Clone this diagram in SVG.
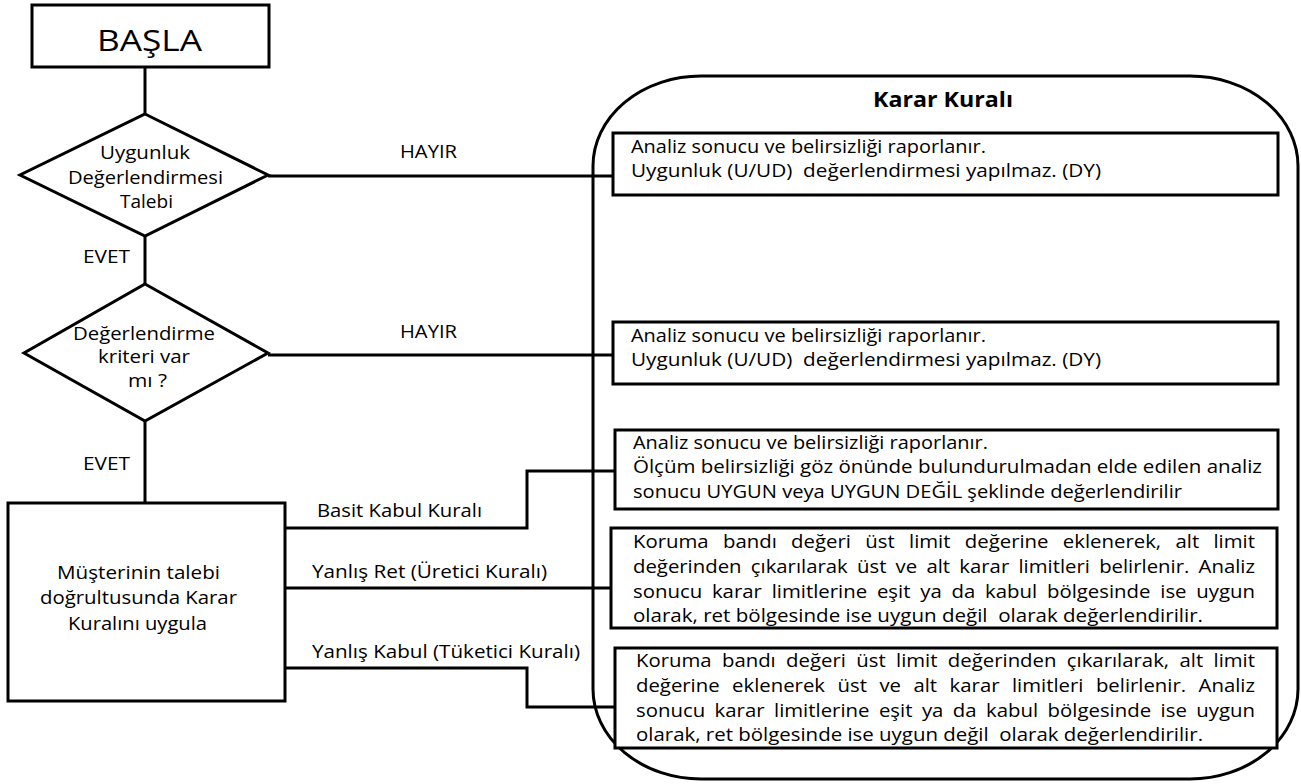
<svg xmlns="http://www.w3.org/2000/svg" width="1301" height="784" viewBox="0 0 1301 784">
<style>
.s{fill:none;stroke:#000;stroke-width:3}
.n{fill:#fff;stroke:#000;stroke-width:3}
.t{font-family:"Open Sans","Liberation Sans",sans-serif;fill:#000}
.lb{font-size:18px}
.dt{font-size:18px}
.rt{font-size:19px}
.bt{font-size:18px}
</style>
<rect x="0" y="0" width="1301" height="784" fill="#fff"/>
<g id="karar-kurali">
<rect class="s" x="593" y="76" width="705" height="703" rx="108" ry="90"/>
<text class="t" x="873" y="107" font-size="21" font-weight="bold" textLength="140" lengthAdjust="spacingAndGlyphs">Karar Kuralı</text>
</g>
<g id="connectors" class="s">
<line x1="145" y1="67" x2="145" y2="114"/>
<line x1="145" y1="236" x2="145" y2="284"/>
<line x1="145" y1="421" x2="145" y2="503"/>
<line x1="268" y1="176" x2="613" y2="176"/>
<line x1="268" y1="355" x2="613" y2="355"/>
<polyline points="285,528 527,528 527,471 615,471"/>
<line x1="285" y1="588" x2="611" y2="588"/>
<polyline points="285,668 527,668 527,707 615,707"/>
</g>
<g id="labels" class="t lb">
<text x="400" y="158" textLength="57" lengthAdjust="spacingAndGlyphs">HAYIR</text>
<text x="400" y="338" textLength="57" lengthAdjust="spacingAndGlyphs">HAYIR</text>
<text x="83" y="263" textLength="47" lengthAdjust="spacingAndGlyphs">EVET</text>
<text x="83" y="470" textLength="47" lengthAdjust="spacingAndGlyphs">EVET</text>
<text x="317" y="517" textLength="165" lengthAdjust="spacingAndGlyphs">Basit Kabul Kuralı</text>
<text x="312" y="578" textLength="235" lengthAdjust="spacingAndGlyphs">Yanlış Ret (Üretici Kuralı)</text>
<text x="312" y="658" textLength="268" lengthAdjust="spacingAndGlyphs">Yanlış Kabul (Tüketici Kuralı)</text>
</g>
<g id="basla">
<rect class="n" x="32" y="5" width="237" height="62"/>
<text class="t" x="97" y="51" font-size="30" textLength="105" lengthAdjust="spacingAndGlyphs">BAŞLA</text>
</g>
<g id="karar1">
<polygon class="n" points="145,114 268,175 145,236 20,175"/>
<text class="t dt" x="100" y="159" textLength="90" lengthAdjust="spacingAndGlyphs">Uygunluk</text>
<text class="t dt" x="68" y="184" textLength="155" lengthAdjust="spacingAndGlyphs">Değerlendirmesi</text>
<text class="t dt" x="120" y="208" textLength="53" lengthAdjust="spacingAndGlyphs">Talebi</text>
</g>
<g id="karar2">
<polygon class="n" points="145,284 268,353 145,421 24,353"/>
<text class="t dt" x="73" y="340" textLength="142" lengthAdjust="spacingAndGlyphs">Değerlendirme</text>
<text class="t dt" x="98" y="363" textLength="92" lengthAdjust="spacingAndGlyphs">kriteri var</text>
<text class="t dt" x="128" y="387" textLength="39" lengthAdjust="spacingAndGlyphs">mı ?</text>
</g>
<g id="uygula">
<rect class="n" x="8" y="503" width="277" height="198"/>
<text class="t rt" x="57" y="579" textLength="163" lengthAdjust="spacingAndGlyphs">Müşterinin talebi</text>
<text class="t rt" x="40" y="604" textLength="197" lengthAdjust="spacingAndGlyphs">doğrultusunda Karar</text>
<text class="t rt" x="68" y="630" textLength="139" lengthAdjust="spacingAndGlyphs">Kuralını uygula</text>
</g>
<g id="sonuc1">
<rect class="n" x="613" y="133" width="665" height="62"/>
<text class="t bt" x="631" y="153" textLength="355" lengthAdjust="spacingAndGlyphs">Analiz sonucu ve belirsizliği raporlanır.</text>
<text class="t bt" x="631" y="177" textLength="470" lengthAdjust="spacingAndGlyphs" xml:space="preserve">Uygunluk (U/UD)  değerlendirmesi yapılmaz. (DY)</text>
</g>
<g id="sonuc2">
<rect class="n" x="613" y="322" width="665" height="62"/>
<text class="t bt" x="631" y="342" textLength="355" lengthAdjust="spacingAndGlyphs">Analiz sonucu ve belirsizliği raporlanır.</text>
<text class="t bt" x="631" y="366" textLength="470" lengthAdjust="spacingAndGlyphs" xml:space="preserve">Uygunluk (U/UD)  değerlendirmesi yapılmaz. (DY)</text>
</g>
<g id="basit">
<rect class="n" x="615" y="430" width="663" height="79"/>
<text class="t bt" x="633" y="449" textLength="355" lengthAdjust="spacingAndGlyphs">Analiz sonucu ve belirsizliği raporlanır.</text>
<text class="t bt" x="633" y="473" textLength="629" lengthAdjust="spacingAndGlyphs">Ölçüm belirsizliği göz önünde bulundurulmadan elde edilen analiz</text>
<text class="t bt" x="633" y="498" textLength="549" lengthAdjust="spacingAndGlyphs">sonucu UYGUN veya UYGUN DEĞİL şeklinde değerlendirilir</text>
</g>
<g id="uretici">
<rect class="n" x="611" y="528" width="666" height="100"/>
<text class="t bt" x="633" y="548" word-spacing="8" textLength="622" lengthAdjust="spacingAndGlyphs">Koruma bandı değeri üst limit değerine eklenerek, alt limit</text>
<text class="t bt" x="633" y="573" word-spacing="3.5" textLength="622" lengthAdjust="spacingAndGlyphs">değerinden çıkarılarak üst ve alt karar limitleri belirlenir. Analiz</text>
<text class="t bt" x="633" y="598" word-spacing="4" textLength="622" lengthAdjust="spacingAndGlyphs">sonucu karar limitlerine eşit ya da kabul bölgesinde ise uygun</text>
<text class="t bt" x="633" y="622" textLength="570" lengthAdjust="spacingAndGlyphs" xml:space="preserve">olarak, ret bölgesinde ise uygun değil  olarak değerlendirilir.</text>
</g>
<g id="tuketici">
<rect class="n" x="615" y="648" width="662" height="100"/>
<text class="t bt" x="636" y="667" word-spacing="4.5" textLength="619" lengthAdjust="spacingAndGlyphs">Koruma bandı değeri üst limit değerinden çıkarılarak, alt limit</text>
<text class="t bt" x="636" y="692" word-spacing="6.4" textLength="619" lengthAdjust="spacingAndGlyphs">değerine eklenerek üst ve alt karar limitleri belirlenir. Analiz</text>
<text class="t bt" x="636" y="717" word-spacing="3.7" textLength="619" lengthAdjust="spacingAndGlyphs">sonucu karar limitlerine eşit ya da kabul bölgesinde ise uygun</text>
<text class="t bt" x="636" y="741" textLength="567" lengthAdjust="spacingAndGlyphs" xml:space="preserve">olarak, ret bölgesinde ise uygun değil  olarak değerlendirilir.</text>
</g>
</svg>
